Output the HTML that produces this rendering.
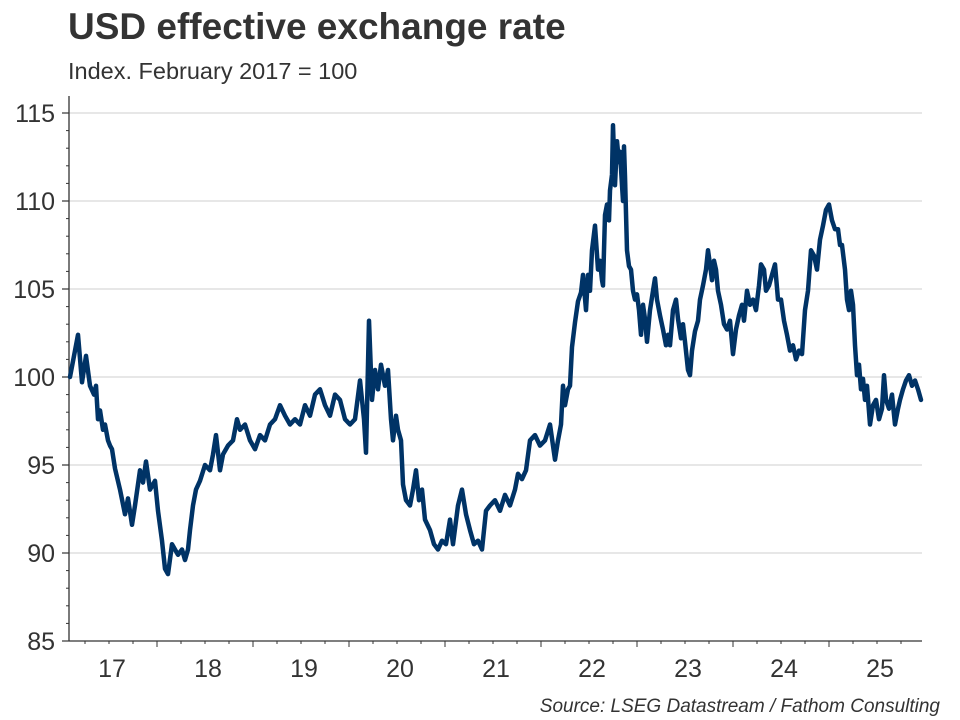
<!DOCTYPE html>
<html><head><meta charset="utf-8"><style>
body{margin:0;background:#fff;}
svg{display:block;font-family:"Liberation Sans",Arial,sans-serif;}
</style></head><body>
<svg id="chart" width="960" height="720" viewBox="0 0 960 720">
<text x="68" y="39" font-size="37" font-weight="bold" fill="#333">USD effective exchange rate</text>
<text x="68" y="79" font-size="23.5" fill="#333">Index. February 2017 = 100</text>
<text x="940" y="712" font-size="19" font-style="italic" fill="#333" text-anchor="end">Source: LSEG Datastream / Fathom Consulting</text>
<g id="grid"></g>
<g id="axes"></g>
<g id="series"></g>
</svg>
<script>
const yTicks=[85,90,95,100,105,110,115];
const xYearLabels=["17","18","19","20","21","22","23","24","25"];
const dates=[0.094,0.177,0.219,0.260,0.302,0.344,0.365,0.385,0.406,0.438,0.458,0.490,0.510,0.531,0.563,0.615,0.667,0.698,0.740,0.771,0.823,0.854,0.885,0.927,0.979,1.010,1.052,1.083,1.115,1.156,1.188,1.219,1.260,1.292,1.323,1.344,1.375,1.406,1.448,1.500,1.552,1.583,1.615,1.656,1.688,1.740,1.792,1.833,1.865,1.917,1.969,2.021,2.073,2.125,2.177,2.229,2.281,2.333,2.385,2.438,2.490,2.542,2.594,2.646,2.698,2.750,2.802,2.854,2.906,2.958,3.010,3.063,3.115,3.156,3.177,3.208,3.240,3.271,3.302,3.333,3.375,3.406,3.438,3.458,3.490,3.510,3.542,3.563,3.594,3.635,3.667,3.698,3.729,3.760,3.792,3.844,3.885,3.927,3.969,4.010,4.052,4.083,4.135,4.177,4.219,4.260,4.302,4.344,4.385,4.427,4.469,4.521,4.573,4.625,4.677,4.729,4.760,4.802,4.844,4.885,4.938,4.990,5.042,5.094,5.146,5.177,5.208,5.229,5.250,5.281,5.302,5.323,5.354,5.385,5.417,5.438,5.469,5.490,5.510,5.531,5.563,5.594,5.615,5.635,5.646,5.667,5.688,5.708,5.719,5.740,5.750,5.771,5.792,5.813,5.823,5.844,5.854,5.865,5.875,5.896,5.917,5.938,5.958,5.979,6.000,6.021,6.042,6.063,6.083,6.104,6.135,6.167,6.188,6.208,6.240,6.271,6.302,6.323,6.344,6.375,6.406,6.427,6.458,6.479,6.500,6.531,6.552,6.573,6.604,6.635,6.656,6.688,6.719,6.740,6.760,6.781,6.802,6.823,6.844,6.875,6.906,6.938,6.969,7.000,7.031,7.063,7.094,7.115,7.146,7.177,7.208,7.240,7.271,7.292,7.323,7.344,7.375,7.406,7.438,7.469,7.500,7.531,7.563,7.594,7.625,7.656,7.688,7.719,7.750,7.781,7.813,7.844,7.875,7.906,7.938,7.969,8.000,8.031,8.063,8.094,8.115,8.135,8.167,8.188,8.208,8.229,8.250,8.271,8.292,8.313,8.333,8.354,8.375,8.396,8.427,8.458,8.490,8.521,8.552,8.573,8.594,8.625,8.656,8.688,8.719,8.740,8.771,8.802,8.833,8.865,8.896,8.927,8.958];
const values=[100.0,102.4,99.7,101.2,99.5,99.0,99.5,97.6,98.1,97.0,97.3,96.4,96.1,95.9,94.8,93.6,92.2,93.1,91.6,92.7,94.7,94.0,95.2,93.6,94.1,92.4,90.7,89.1,88.8,90.5,90.2,89.9,90.2,89.6,90.2,91.3,92.7,93.6,94.1,95.0,94.7,95.6,96.7,94.7,95.6,96.1,96.4,97.6,97.0,97.3,96.4,95.9,96.7,96.4,97.3,97.6,98.4,97.8,97.3,97.6,97.3,98.4,97.8,99.0,99.3,98.4,97.8,99.0,98.7,97.6,97.3,97.6,99.8,97.6,95.7,103.2,98.7,100.4,99.3,100.7,99.5,100.4,97.6,96.4,97.8,97.0,96.4,93.9,93.0,92.7,93.6,94.7,93.0,93.6,91.9,91.3,90.5,90.2,90.7,90.5,91.9,90.5,92.7,93.6,92.2,91.3,90.5,90.7,90.2,92.4,92.7,93.0,92.4,93.3,92.7,93.6,94.5,94.2,94.7,96.4,96.7,96.1,96.4,97.3,95.3,96.4,97.3,99.5,98.4,99.3,99.5,101.7,103.1,104.3,104.8,105.8,103.8,105.8,104.9,107.2,108.6,106.1,106.6,105.5,105.2,109.2,109.8,108.9,110.6,111.5,114.3,110.9,113.4,112.2,112.8,110.9,110.0,113.1,111.4,107.2,106.3,106.1,104.9,104.4,104.7,103.8,102.4,104.1,103.3,102.0,103.8,104.9,105.6,104.4,103.5,102.7,101.8,102.4,101.8,103.8,104.4,103.3,102.2,103.0,102.0,100.4,100.1,101.5,102.6,103.2,104.4,105.2,106.1,107.2,106.4,105.5,106.6,106.1,104.9,104.1,103.0,102.7,103.2,101.3,102.7,103.5,104.1,103.2,104.9,104.1,104.4,103.8,105.2,106.4,106.1,104.9,105.2,105.8,106.4,104.4,104.4,103.2,102.4,101.5,101.8,101.0,101.5,101.3,103.8,104.9,107.2,106.9,106.1,107.8,108.6,109.5,109.8,108.9,108.4,108.4,107.5,107.5,106.1,104.4,103.8,104.9,104.1,101.8,100.1,100.7,99.3,99.9,98.7,99.5,97.3,98.4,98.7,97.6,98.2,100.1,98.7,98.2,99.0,97.3,98.2,98.7,99.3,99.8,100.1,99.5,99.8,99.3,98.7];

const NS="http://www.w3.org/2000/svg";
const X0=61, PXY=96, LEFT=69, RIGHT=922;
const yScale=v=>641-(v-85)*17.6;
const xScale=t=>X0+t*PXY;
function mk(tag,attrs,parent){const e=document.createElementNS(NS,tag);for(const k in attrs)e.setAttribute(k,attrs[k]);parent.appendChild(e);return e;}
const grid=document.getElementById('grid'),axes=document.getElementById('axes'),series=document.getElementById('series');

yTicks.forEach(v=>{
  const y=yScale(v);
  if(v>85){const g=mk('line',{x1:LEFT,x2:RIGHT,y1:y,y2:y,stroke:'#cfcfcf','stroke-width':1},grid);
  
  }
  const t=mk('line',{x1:62,x2:LEFT,y1:y,y2:y,stroke:'#333','stroke-width':1.2},axes);
  
  
  const l=mk('text',{x:55,y:y+9,'font-size':25,fill:'#333','text-anchor':'end'},axes);
  l.textContent=v;
  
  
});
for(let v=86;v<115;v++){ if(v%5===0)continue; const y=yScale(v);
  const m=mk('line',{x1:66,x2:LEFT,y1:y,y2:y,stroke:'#333','stroke-width':1},axes);
  
  
}
const ya=mk('line',{x1:LEFT,x2:LEFT,y1:96,y2:641,stroke:'#333','stroke-width':1.3},axes);


const xa=mk('line',{x1:LEFT,x2:RIGHT,y1:641,y2:641,stroke:'#333','stroke-width':1.3},axes);


for(let q=1;q<37;q++){const x=X0+q*PXY/4; if(x<LEFT||x>RIGHT)continue;
  const major=q%4===0;
  const t=mk('line',{x1:x,x2:x,y1:641,y2:major?647:644,stroke:'#333','stroke-width':1},axes);
  
  
}
xYearLabels.forEach((s,i)=>{
  const l=mk('text',{x:xScale(i+0.5)+3,y:677,'font-size':25,fill:'#333','text-anchor':'middle'},axes);
  l.textContent=s;
  
  
});
let d='';
dates.forEach((t,i)=>{d+=(i?'L':'M')+xScale(t).toFixed(1)+','+yScale(values[i]).toFixed(1);});
const p=mk('path',{d:d,fill:'none',stroke:'#003366','stroke-width':4.5,'stroke-linejoin':'round','stroke-linecap':'round'},series);


</script>
</body></html>
